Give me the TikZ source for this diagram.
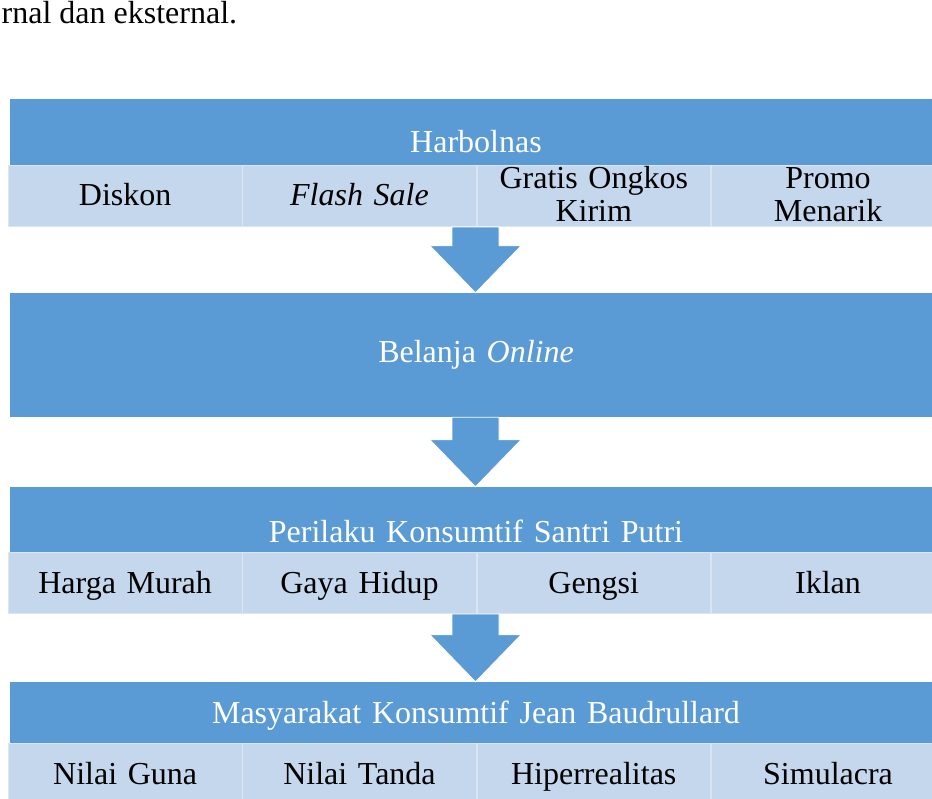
\documentclass[tikz,border=0pt]{standalone}
\usepackage{fontspec}
\setmainfont{Liberation Serif}
\usetikzlibrary{positioning,calc}

\definecolor{headblue}{HTML}{5B9BD5}
\definecolor{cellblue}{HTML}{C5D7EC}
\definecolor{celledge}{HTML}{DCE6F3}

% block arrow from the bottom of #1 down to the top of #2
\newcommand{\blockarrow}[2]{%
  \path[bigarrow]
    ($(#1.south -| axis)+(-23.5,0)$) -- ($(#1.south -| axis)+(23.5,0)$)
    -- ($(#2.north -| axis)+(23.5,-47)$) -- ($(#2.north -| axis)+(45.5,-47)$)
    -- (#2.north -| axis)
    -- ($(#2.north -| axis)+(-45.5,-47)$) -- ($(#2.north -| axis)+(-23.5,-47)$)
    -- cycle;}

\begin{document}
\begin{tikzpicture}[
    x=1pt, y=-1pt,
    font=\fontsize{32}{33}\selectfont,
    node distance=0pt,
    head/.style={fill=headblue, text=white, inner xsep=0pt, inner ysep=0pt,
                 text width=932pt, align=center, anchor=base},
    cell/.style={fill=cellblue, draw=celledge, line width=0.8pt,
                 inner xsep=0pt, inner ysep=0pt, text width=233.5pt, align=center,
                 text height=40.5pt, text depth=20.5pt},
    bigarrow/.style={fill=headblue, draw=white, line width=0.8pt}
]
\useasboundingbox (0,0) rectangle (932,799);
\clip (0,0) rectangle (932,799);
\coordinate (axis) at (475.5,0);

\node[anchor=base west, inner sep=0pt] (intro) at (1.5,24) {rnal dan eksternal.};

% Harbolnas
\node[head, text height=54pt, text depth=12pt] (harbolnas) at (476,153) {Harbolnas};
\node[cell, anchor=base west] (diskon) at (8,206) {Diskon};
\node[cell, right=of diskon] (flash) {\textit{Flash Sale}};
\node[cell, right=of flash, text height=23pt, text depth=38pt] (ongkir) {Gratis Ongkos\\Kirim};
\node[cell, right=of ongkir, text height=23pt, text depth=38pt] (promo) {Promo\\Menarik};

% Belanja online
\node[head, text height=70pt, text depth=54pt] (belanja) at (476,363) {Belanja \textit{Online}};

% Perilaku konsumtif
\node[head, text height=55pt, text depth=11pt] (perilaku) at (476,542) {Perilaku Konsumtif Santri Putri};
\node[cell, anchor=base west] (harga) at (8,593) {Harga Murah};
\node[cell, right=of harga] (gaya) {Gaya Hidup};
\node[cell, right=of gaya] (gengsi) {Gengsi};
\node[cell, right=of gengsi] (iklan) {Iklan};

% Baudrillard
\node[head, text height=41pt, text depth=21pt] (masyarakat) at (476,723) {Masyarakat Konsumtif Jean Baudrullard};
\node[cell, anchor=base west] (guna) at (8,784) {Nilai Guna};
\node[cell, right=of guna] (tanda) {Nilai Tanda};
\node[cell, right=of tanda] (hiper) {Hiperrealitas};
\node[cell, right=of hiper] (simulacra) {Simulacra};

\blockarrow{diskon}{belanja}
\blockarrow{belanja}{perilaku}
\blockarrow{harga}{masyarakat}
\end{tikzpicture}
\end{document}
